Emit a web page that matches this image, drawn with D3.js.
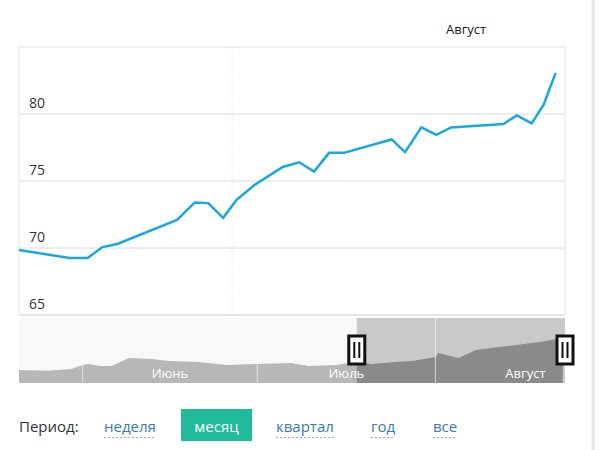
<!DOCTYPE html>
<html><head><meta charset="utf-8">
<script src="https://cdn.jsdelivr.net/npm/d3@7"></script>
<style>
body{margin:0;background:#fff;font-family:"Open Sans",sans-serif;}
</style></head>
<body><svg id="c" width="606" height="450"></svg>
<script>
// main series: day offset from left edge, value
var days = [0,3.4,4.6,5.6,6.6,10.6,11.8,12.7,13.7,14.6,15.8,17.7,18.8,19.8,20.8,21.8,25,25.9,27,28,29,32.5,33.4,34.4,35.2,36];
var values = [69.85,69.25,69.25,70.07,70.3,72.1,73.4,73.35,72.25,73.6,74.7,76.05,76.4,75.7,77.1,77.1,78.1,77.15,79.0,78.45,79.0,79.25,79.9,79.3,80.7,83.05];
var yTicks = [65,70,75,80];
var julyDay = 14.3, augLabelDay = 30;

// navigator series
var navDays = [0,5,9,11,12,14,16,19,23,26,31,36,41,47,50,55,58,61,65,68,72,72.5,76,79,83,86,90,94];
var navValues = [58,57.5,58.6,61.1,61.7,60.5,60.5,65.4,64.8,63.5,62.9,61.1,61.7,62.3,60.5,61.1,62.9,61.7,62.9,63.5,66.0,68.5,65.4,70.3,72.2,73.4,75.2,77.7];
var navMonths = [{d:11,label:"Июнь"},{d:41.2,label:"Июль"},{d:72,label:"Август"}];
var navSel = [58.4,94.4];

var periods = ["неделя","месяц","квартал","год","все"];
var periodX = [104,181,276,371,433];
var activePeriod = "месяц";

var svg = d3.select("#c");
var L = 19, R = 565, T = 47, B = 315;
var x = d3.scaleLinear().domain([0,36.5]).range([L,R-2]);
var y = d3.scaleLinear().domain([65,85]).range([B,T]);

svg.append("line").attr("x1",593).attr("x2",593).attr("y1",0).attr("y2",450).attr("stroke","#e6e6e6").attr("stroke-width",3);
svg.append("rect").attr("x",L).attr("y",T).attr("width",R-L).attr("height",B-T).attr("fill","none").attr("stroke","#e3e3e3");

svg.selectAll(".grid").data(yTicks).enter().append("line")
  .attr("x1",L).attr("x2",R).attr("y1",d=>y(d)).attr("y2",d=>y(d))
  .attr("stroke","#dcdcdc");
svg.selectAll(".yl").data(yTicks).enter().append("text")
  .attr("x",29).attr("y",d=>y(d)-6).text(d=>d)
  .attr("font-size",14).attr("fill","#333");

svg.append("line").attr("x1",x(julyDay)).attr("x2",x(julyDay)).attr("y1",T).attr("y2",B)
  .attr("stroke","#ddd").attr("stroke-dasharray","1,2");
svg.append("text").attr("x",x(augLabelDay)).attr("y",34).attr("text-anchor","middle")
  .attr("font-size",13).attr("fill","#222").text("Август");

svg.append("path").datum(d3.zip(days,values))
  .attr("d",d3.line().x(d=>x(d[0])).y(d=>y(d[1])))
  .attr("fill","none").attr("stroke","#1aa7e0").attr("stroke-width",2.5);

// navigator
var NT = 318, NB = 383;
var nx = d3.scaleLinear().domain([0,94.4]).range([L,R]);
var ny = d3.scaleLinear().domain([50,90]).range([NB,NT]);
svg.append("rect").attr("x",L).attr("y",NT).attr("width",R-L).attr("height",NB-NT).attr("fill","#f8f8f8");
svg.append("rect").attr("x",nx(navSel[0])).attr("y",NT).attr("width",nx(navSel[1])-nx(navSel[0])).attr("height",NB-NT).attr("fill","#c9c9c9");
var area = d3.area().x(d=>nx(d[0])).y0(NB).y1(d=>ny(d[1]));
var nd = d3.zip(navDays,navValues);
svg.append("clipPath").attr("id","out").append("rect").attr("x",L).attr("y",NT).attr("width",nx(navSel[0])-L).attr("height",NB-NT);
svg.append("clipPath").attr("id","in").append("rect").attr("x",nx(navSel[0])).attr("y",NT).attr("width",R-nx(navSel[0])).attr("height",NB-NT);
svg.append("path").datum(nd).attr("d",area).attr("fill","#b7b7b7").attr("clip-path","url(#out)");
svg.append("path").datum(nd).attr("d",area).attr("fill","#8a8a8a").attr("clip-path","url(#in)");
svg.selectAll(".ml").data(navMonths).enter().append("line")
  .attr("x1",d=>nx(d.d)).attr("x2",d=>nx(d.d)).attr("y1",NT).attr("y2",NB)
  .attr("stroke","#fff").attr("stroke-opacity",0.6);
svg.selectAll(".mt").data(navMonths).enter().append("text")
  .attr("x",(d,i)=>i<2?(nx(d.d)+nx(navMonths[i+1].d))/2:nx(d.d)+90).attr("y",378)
  .attr("text-anchor","middle").attr("font-size",13).attr("fill","#fff").text(d=>d.label);
navSel.forEach(function(d){
  var g = svg.append("g").attr("transform","translate("+(nx(d)-8)+",336)");
  g.append("rect").attr("width",16).attr("height",28).attr("fill","#fff").attr("stroke","#111").attr("stroke-width",3);
  g.append("rect").attr("x",4.5).attr("y",6).attr("width",2).attr("height",16).attr("fill","#111");
  g.append("rect").attr("x",9.5).attr("y",6).attr("width",2).attr("height",16).attr("fill","#111");
});

// period selector
svg.append("text").attr("x",19).attr("y",432).attr("font-size",15).attr("fill","#333").text("Период:");
periods.forEach(function(p,i){
  var active = p===activePeriod;
  if(active){
    svg.append("rect").attr("x",periodX[i]).attr("y",409).attr("width",71).attr("height",32).attr("fill","#1fbb9a");
    svg.append("text").attr("x",periodX[i]+35.5).attr("y",432).attr("text-anchor","middle")
      .attr("font-size",15).attr("fill","#fff").text(p);
  } else {
    var t = svg.append("text").attr("x",periodX[i]).attr("y",432).attr("font-size",15).attr("fill","#3a78b8").text(p);
    var w = t.node().getComputedTextLength();
    svg.append("line").attr("x1",periodX[i]).attr("x2",periodX[i]+w).attr("y1",437.5).attr("y2",437.5)
      .attr("stroke","#9ab").attr("stroke-dasharray","2,2");
  }
});
</script></body></html>
